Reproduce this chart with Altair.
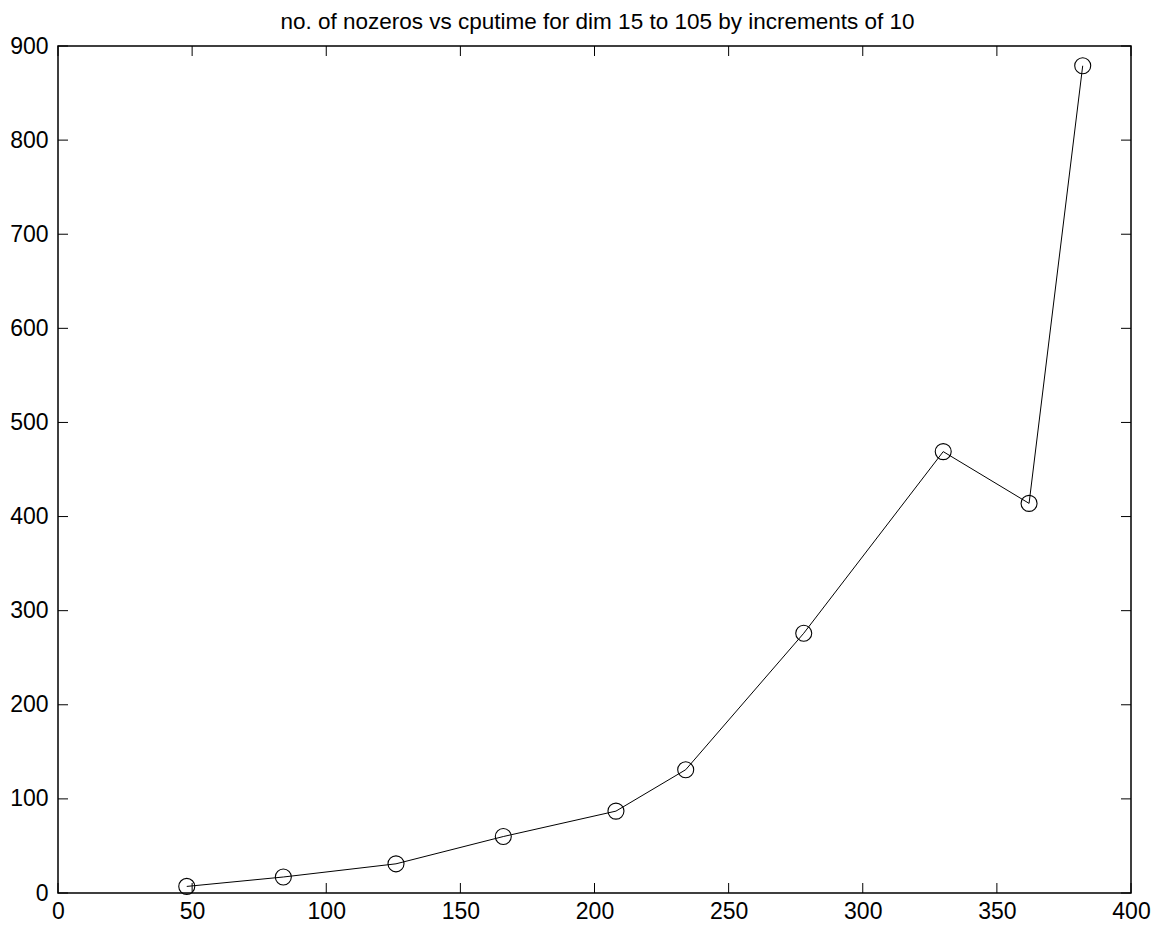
import altair as alt
import pandas as pd

cputime = [48, 84, 126, 166, 208, 234, 278, 330, 362, 382]
nonzeros = [7, 17, 31, 60, 87, 131, 276, 469, 414, 879]
x_ticks = [0, 50, 100, 150, 200, 250, 300, 350, 400]
y_ticks = [0, 100, 200, 300, 400, 500, 600, 700, 800, 900]

W, H = 1073, 847
TL = 10

df = pd.DataFrame({"x": cputime, "y": nonzeros})
xt = pd.DataFrame({"t": x_ticks})
yt = pd.DataFrame({"t": y_ticks})

xs = alt.Scale(domain=[0, 400], nice=False, zero=False)
ys = alt.Scale(domain=[0, 900], nice=False, zero=False)

font = "Liberation Sans"

xaxis = alt.Axis(values=x_ticks, tickSize=0, domain=False, grid=False, labelFontSize=23,
                 labelFont=font, labelColor="black", labelPadding=7, labelFlush=False,
                 title=None)
yaxis = alt.Axis(values=y_ticks, tickSize=0, domain=False, grid=False, labelFontSize=23,
                 labelFont=font, labelColor="black", labelPadding=10, labelFlush=False,
                 title=None)

line = alt.Chart(df).mark_line(color="black", strokeWidth=1).encode(
    x=alt.X("x:Q", scale=xs, axis=xaxis),
    y=alt.Y("y:Q", scale=ys, axis=yaxis),
)
pts = alt.Chart(df).mark_point(shape="circle", filled=False, color="black", size=256,
                               strokeWidth=1.1, opacity=1).encode(
    x=alt.X("x:Q", scale=xs),
    y=alt.Y("y:Q", scale=ys),
)

tick_style = dict(color="black", strokeWidth=1)
bt = alt.Chart(xt).mark_rule(**tick_style).encode(
    x=alt.X("t:Q", scale=xs), y=alt.value(H), y2=alt.value(H - TL))
tt = alt.Chart(xt).mark_rule(**tick_style).encode(
    x=alt.X("t:Q", scale=xs), y=alt.value(0), y2=alt.value(TL))
lt = alt.Chart(yt).mark_rule(**tick_style).encode(
    y=alt.Y("t:Q", scale=ys), x=alt.value(0), x2=alt.value(TL))
rt = alt.Chart(yt).mark_rule(**tick_style).encode(
    y=alt.Y("t:Q", scale=ys), x=alt.value(W), x2=alt.value(W - TL))

chart = alt.layer(bt, tt, lt, rt, line, pts).properties(
    width=W, height=H,
    background="white",
    title=alt.TitleParams("no. of nozeros vs cputime for dim 15 to 105 by increments of 10",
                          font=font, fontSize=22.5, fontWeight="normal", color="black",
                          anchor="middle", offset=2, dx=3),
    autosize=alt.AutoSizeParams(type="none"),
    padding={"left": 50, "top": 38, "right": 20, "bottom": 30},
).configure_view(stroke="black", strokeWidth=1.5)

chart.save("out.html", embed_options={"renderer": "svg", "actions": False})
